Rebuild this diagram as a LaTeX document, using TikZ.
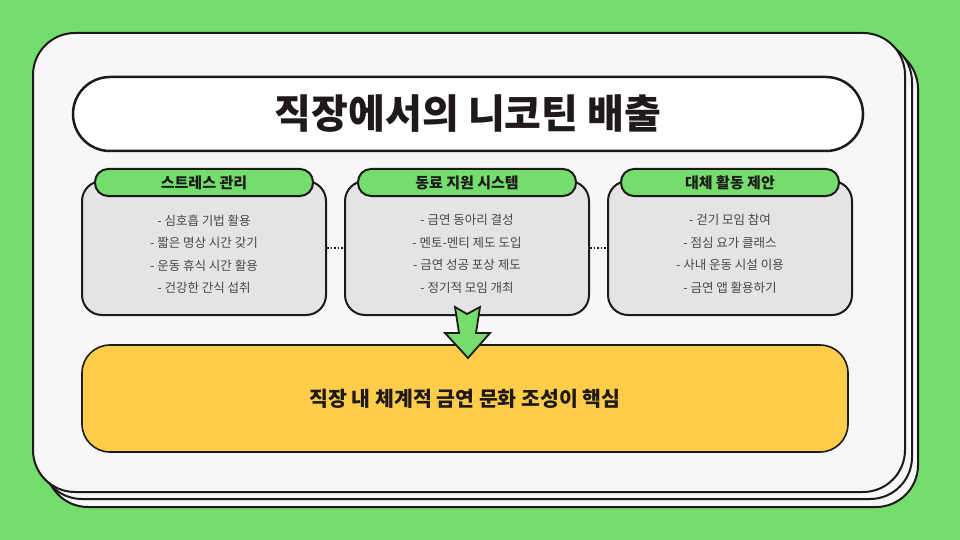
\documentclass[tikz,border=0pt]{standalone}
\usepackage{fontspec}
\setmainfont{Noto Sans CJK KR}
\usepackage{tikz}
\usetikzlibrary{positioning}
\definecolor{bggreen}{HTML}{74DD6D}
\definecolor{cardwhite}{HTML}{F7F7F7}
\definecolor{panelgray}{HTML}{E4E4E4}
\definecolor{resultyellow}{HTML}{FFCD4A}
\definecolor{ink}{HTML}{1E1A1A}
\definecolor{itemgray}{HTML}{474747}

\begin{document}
\begin{tikzpicture}
  [x=1pt, y=-1pt, line join=round,
   card/.style={draw=ink, line width=2pt, fill=cardwhite, rounded corners=42pt},
   panel/.style={draw=ink, line width=2pt, fill=panelgray, rounded corners=20pt,
     minimum width=244pt, minimum height=134pt},
   header/.style={draw=ink, line width=2pt, fill=bggreen, rounded corners=13pt,
     minimum width=218pt, minimum height=27pt, inner sep=0pt, text=ink,
     font=\bfseries\fontsize{15}{16}\selectfont},
   items/.style={align=center, text=itemgray, font=\fontsize{12.5}{22.5}\selectfont},
   link/.style={draw=ink, line width=1.5pt, dotted}]
  \useasboundingbox (0,0) rectangle (960,540);
  \fill[bggreen] (0,0) rectangle (960,540);

  \draw[card] (46,47) rectangle (918,507);
  \draw[card] (40,40) rectangle (912,499);
  \draw[card] (33,33) rectangle (905,492);

  \node[draw=ink, line width=2.5pt, fill=white, rounded corners=37pt,
    minimum width=790pt, minimum height=74pt, text=ink,
    font=\bfseries\fontsize{40}{44}\selectfont] (title) at (468,114) {직장에서의 니코틴 배출};

  \node[panel] (stress) at (204,248) {};
  \node[panel] (peer) [right=17pt of stress] {};
  \node[panel] (alt) [right=17pt of peer] {};

  \node[header] (stressHead) at ([yshift=-2.5pt]stress.north) {스트레스 관리};
  \node[header] (peerHead) at ([yshift=-2.5pt]peer.north) {동료 지원 시스템};
  \node[header] (altHead) at ([yshift=-2.5pt]alt.north) {대체 활동 제안};

  \node[items] (stressItems) at ([yshift=-6pt]stress.center)
    {- 심호흡 기법 활용\\- 짧은 명상 시간 갖기\\- 운동 휴식 시간 활용\\- 건강한 간식 섭취};
  \node[items] (peerItems) at ([yshift=-6pt]peer.center)
    {- 금연 동아리 결성\\- 멘토-멘티 제도 도입\\- 금연 성공 포상 제도\\- 정기적 모임 개최};
  \node[items] (altItems) at ([yshift=-6pt]alt.center)
    {- 걷기 모임 참여\\- 점심 요가 클래스\\- 사내 운동 시설 이용\\- 금연 앱 활용하기};

  \draw[link] (stress) -- (peer);
  \draw[link] (peer) -- (alt);

  \node[draw=ink, line width=1.6pt, fill=resultyellow, rounded corners=28pt,
    minimum width=766pt, minimum height=107pt, text=ink,
    font=\bfseries\fontsize{20.5}{24}\selectfont] (result) at (465,398.5) {직장 내 체계적 금연 문화 조성이 핵심};

  \draw[draw=ink, line width=1.8pt, fill=bggreen, line join=miter, shift={(peer.south)}]
    (-12,-9) -- (0,-2) -- (13,-9) -- (9,17) -- (23,17) -- (1,42) -- (-22,17) -- (-8,17) -- cycle;
\end{tikzpicture}
\end{document}
